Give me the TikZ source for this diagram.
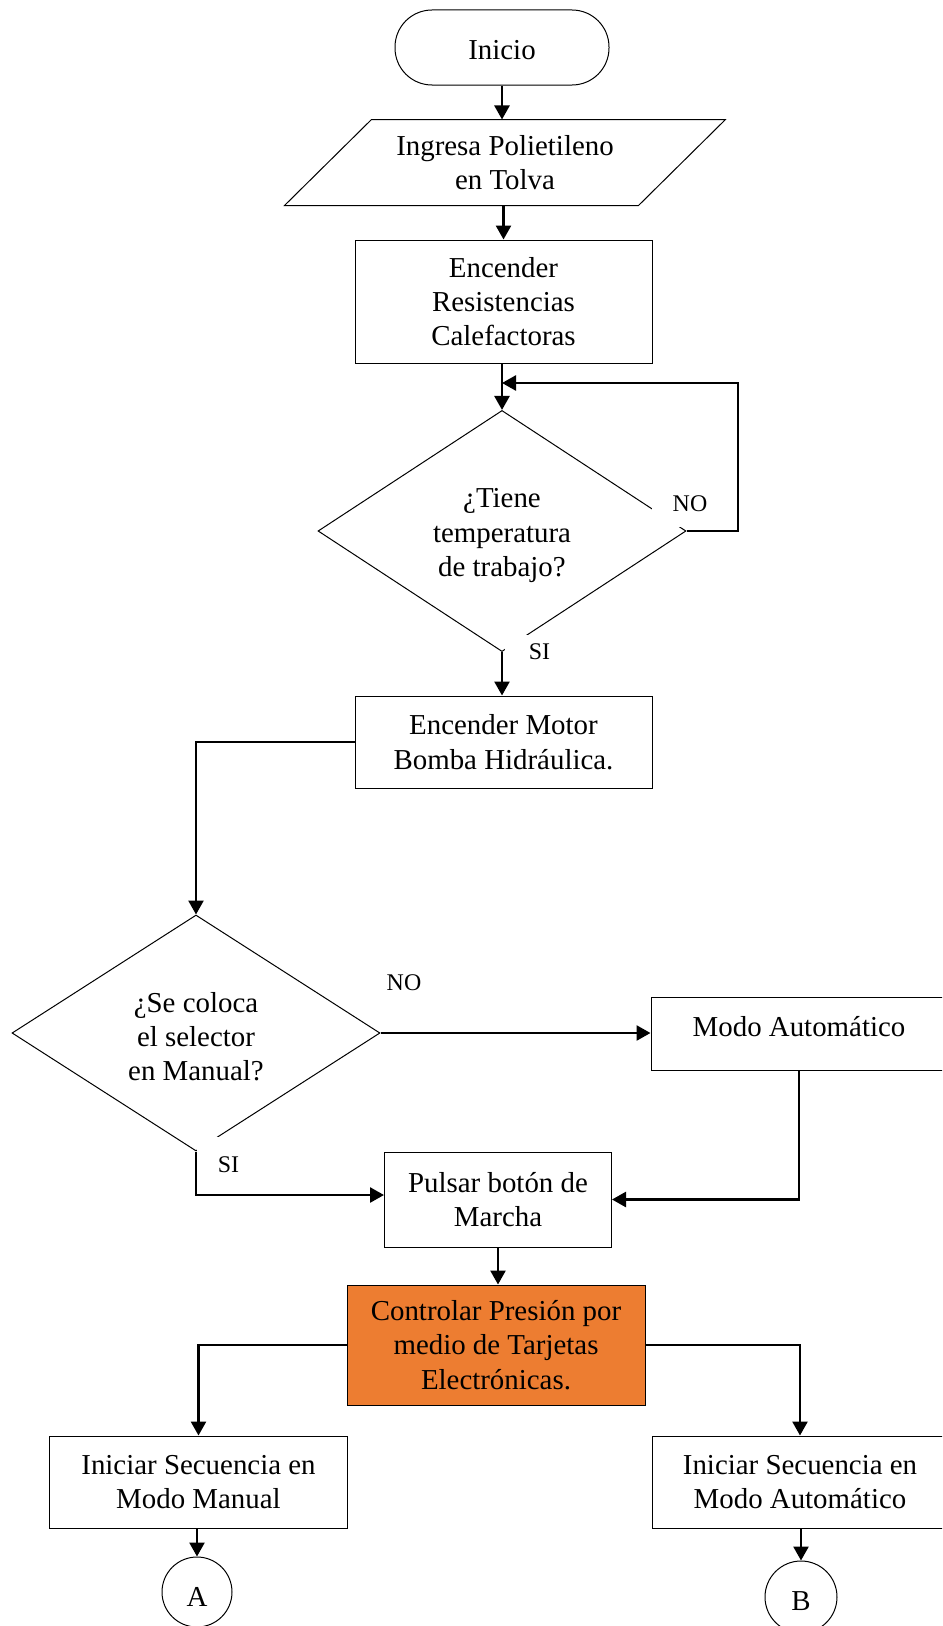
\documentclass[tikz,border=0pt]{standalone}
\usepackage{fontspec}
\setmainfont{Liberation Serif}
\usetikzlibrary{arrows.meta,shapes.geometric}
\definecolor{ctrlorange}{RGB}{237,125,49}
\tikzset{
  base/.style={draw=black, line width=1bp, inner sep=0pt, align=center,
    font=\fontsize{29}{34.5}\selectfont},
  procbox/.style={base, rectangle},
  decision/.style={base, diamond},
  conncircle/.style={base, circle, text height=28bp},
  conn/.style={line width=2.6bp, -{Triangle[length=14bp,width=15bp]}},
  lbl/.style={inner sep=0pt, font=\fontsize{24}{28}\selectfont},
}
\begin{document}
\begin{tikzpicture}[x=1bp,y=-1bp]
\useasboundingbox (0,0) rectangle (942,1626);
\clip (0,0) rectangle (942,1626);

% start terminal
\node[procbox, rounded corners=37bp, minimum width=214bp, minimum height=75bp,
  text height=24bp]
  (start) at (502,47.5) {Inicio};

% input (parallelogram drawn around its text node)
\node[base, draw=none, minimum width=353bp, minimum height=85bp]
  (ing) at (505,162.5) {Ingresa Polietileno\\en Tolva};
\draw[line width=1bp] ([xshift=43.5bp]ing.north west) -- ([xshift=43.5bp]ing.north east)
  -- ([xshift=-43.5bp]ing.south east) -- ([xshift=-43.5bp]ing.south west) -- cycle;

% heating
\node[procbox, minimum width=297bp, minimum height=123bp]
  (res) at (503.5,301.5) {Encender\\Resistencias\\Calefactoras};

% temperature check
\node[decision, minimum width=368bp, minimum height=234bp, text height=97bp]
  (temp) at (502,531) {¿Tiene\\temperatura\\de trabajo?};

% hydraulic pump
\node[procbox, minimum width=297bp, minimum height=92bp]
  (motor) at (503.5,742) {Encender Motor\\Bomba Hidráulica.};

% selector check
\node[decision, minimum width=368bp, minimum height=236bp, text height=96bp]
  (sel) at (196,1033) {¿Se coloca\\el selector\\en Manual?};

% automatic mode
\node[procbox, minimum width=296bp, minimum height=73bp, text depth=14bp]
  (auto) at (799,1033.5) {Modo Automático};

% start button
\node[procbox, minimum width=227bp, minimum height=95bp]
  (pulsar) at (498,1199.5) {Pulsar botón de\\Marcha};

% pressure control
\node[procbox, fill=ctrlorange, minimum width=298bp, minimum height=120bp]
  (ctrl) at (496,1345) {Controlar Presión por\\medio de Tarjetas\\Electrónicas.};

% sequences
\node[procbox, minimum width=297bp, minimum height=92bp]
  (man) at (198.5,1482) {Iniciar Secuencia en\\Modo Manual};
\node[procbox, minimum width=296bp, minimum height=92bp]
  (aut2) at (800,1482) {Iniciar Secuencia en\\Modo Automático};

% off-page connectors
\node[conncircle, minimum size=70bp] (A) at (197,1592) {A};
\node[conncircle, minimum size=72bp] (B) at (801,1597) {B};

% branch labels
\node[lbl, fill=white, minimum width=76bp, minimum height=47bp] (no1) at (690,503.5) {NO};
\node[lbl, fill=white, minimum width=69bp, minimum height=34bp] (si1) at (539.5,652) {SI};
\node[lbl] (no2) at (404,983) {NO};
\node[lbl, fill=white, minimum width=63bp, minimum height=55bp] (si2) at (228.5,1164.5) {SI};

% connectors
\coordinate (loopR) at (738,383);
\draw[conn] (start.south) -- (start.south |- ing.north);
\draw[conn] (res.north |- ing.south) -- (res.north);
\draw[conn] (temp.north |- res.south) -- (temp.north);
\draw[conn] (temp.east) -| (loopR) -- (temp.north |- loopR);
\draw[conn] (temp.south) -- (temp.south |- motor.north);
\draw[conn] (motor.west) -| (sel.north);
\draw[conn] (sel.east) -- (sel.east -| auto.west);
\draw[conn] (auto.south) |- (pulsar.east);
\draw[conn] (sel.south) |- ([yshift=4.5bp]pulsar.west);
\draw[conn] (pulsar.south) -- (pulsar.south |- ctrl.north);
\draw[conn] (ctrl.west) -| (man.north);
\draw[conn] (ctrl.east) -| (aut2.north);
\draw[conn] (A.north |- man.south) -- (A.north);
\draw[conn] (B.north |- aut2.south) -- (B.north);
\end{tikzpicture}
\end{document}
